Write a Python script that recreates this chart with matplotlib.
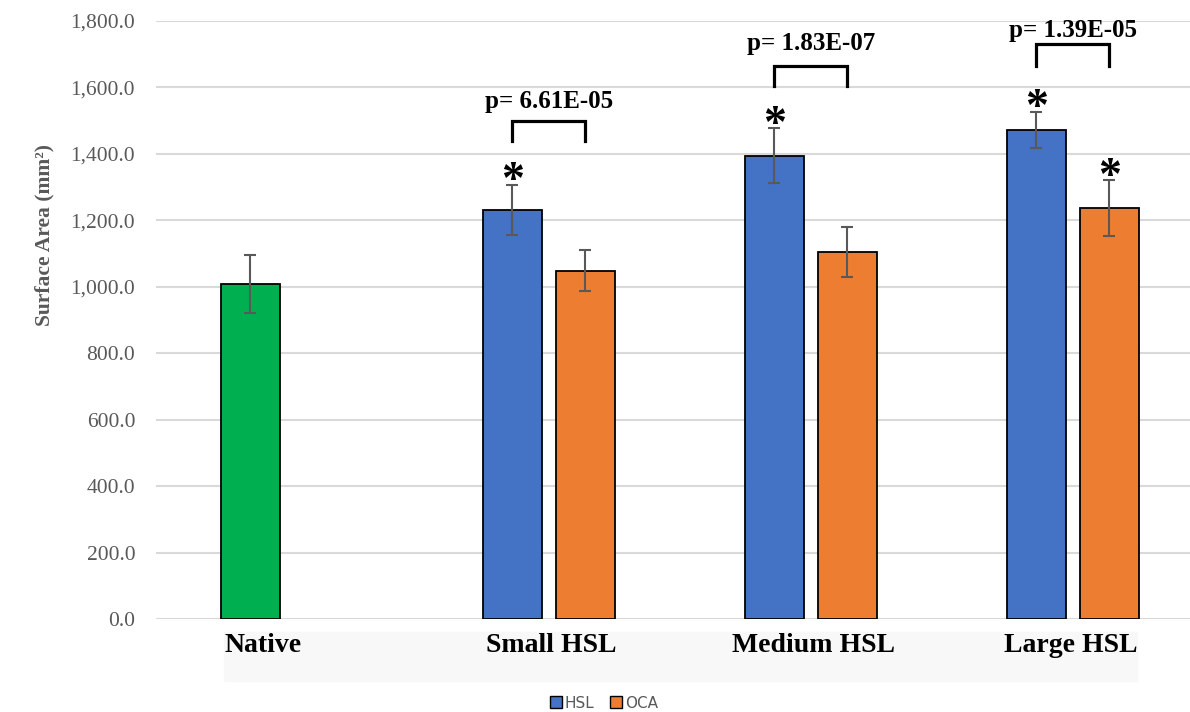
import matplotlib.pyplot as plt
import numpy as np
from matplotlib.patches import Patch, Rectangle

# values
categories = ['Native', 'Small HSL', 'Medium HSL', 'Large HSL']
native_mean = 1008
native_err = 88
hsl_mean = [1231, 1394, 1472]
hsl_err = [75, 83, 55]
oca_mean = [1048, 1105, 1237]
oca_err = [62, 75, 83]
p_labels = ['p= 6.61E-05', 'p= 1.83E-07', 'p= 1.39E-05']
bracket_top = [1499, 1665, 1731]
bracket_leg = [60, 61, 66]
p_text_y = [1538, 1713, 1752]
hsl_star = [True, True, True]
oca_star = [False, False, True]

BLUE = '#4472C4'
ORANGE = '#ED7D31'
GREEN = '#00B050'
GRAY = '#595959'
GRID = '#d9d9d9'
SERIF = 'Liberation Serif'

W, H = 1190, 712
fig = plt.figure(figsize=(W / 100, H / 100), dpi=100)

# light band behind the category labels (added first so it sits under the axes)
fig.patches.append(Rectangle((224 / W, 1 - 681 / H), (1137 - 224) / W, 49 / H,
                             transform=fig.transFigure, color='#f8f8f8',
                             zorder=-1))

ax = fig.add_axes([156 / W, 1 - 619 / H, 1 - 156 / W, (619 - 21) / H])
ax.patch.set_alpha(0)

off = 0.1393
bw = 0.225
groups = np.arange(1, 4)
bar_kw = dict(width=bw, edgecolor='black', linewidth=1.3, zorder=3)
err_kw = dict(ecolor=GRAY, elinewidth=1.5, capsize=4, capthick=1.5, zorder=4)

ax.bar(0 - off, native_mean, yerr=native_err, color=GREEN, error_kw=err_kw, **bar_kw)
ax.bar(groups - off, hsl_mean, yerr=hsl_err, color=BLUE, error_kw=err_kw, **bar_kw)
ax.bar(groups + off, oca_mean, yerr=oca_err, color=ORANGE, error_kw=err_kw, **bar_kw)

# significance stars
star_kw = dict(ha='center', va='baseline', fontsize=33, fontweight='bold',
               family=SERIF, zorder=5)
for g, m, e, s in zip(groups, hsl_mean, hsl_err, hsl_star):
    if s:
        ax.text(g - off, m + e - 25, '*', **star_kw)
for g, m, e, s in zip(groups, oca_mean, oca_err, oca_star):
    if s:
        ax.text(g + off, m + e - 25, '*', **star_kw)

# brackets with p-values
for g, top, leg, lbl, ty in zip(groups, bracket_top, bracket_leg, p_labels, p_text_y):
    xl, xr = g - off, g + off
    ax.plot([xl, xl, xr, xr], [top - leg, top, top, top - leg],
            color='black', lw=2.3, solid_joinstyle='miter', zorder=5)
    ax.text(g, ty, lbl, ha='center', va='baseline', fontsize=18,
            fontweight='bold', family=SERIF)

ax.set_xlim(-0.5, 3.447)
ax.set_ylim(0, 1800)
ax.set_yticks(np.arange(0, 1801, 200))
ax.set_yticklabels([f'{v:,.1f}' for v in np.arange(0, 1801, 200)],
                   family=SERIF, fontsize=15.5, color=GRAY)
ax.tick_params(axis='y', length=0, pad=15)
ax.set_xticks([-0.09, 1.01, 2.01, 2.99])
ax.set_xticklabels(categories, family=SERIF, fontsize=20, fontweight='bold')
ax.tick_params(axis='x', length=0, pad=10)
ax.yaxis.grid(True, color=GRID, lw=1.5, zorder=0)
ax.set_axisbelow(True)
for sp in ax.spines.values():
    sp.set_visible(False)
ax.set_ylabel('Surface Area (mm²)', family=SERIF, fontsize=15.5,
              fontweight='bold', color=GRAY)
ax.yaxis.set_label_coords(-0.098, 0.642)

handles = [Patch(facecolor=BLUE, edgecolor='black', label='HSL'),
           Patch(facecolor=ORANGE, edgecolor='black', label='OCA')]
fig.legend(handles=handles, loc='center', bbox_to_anchor=(604 / W, 1 - 703 / H),
           ncol=2, frameon=False, fontsize=11, labelcolor=GRAY,
           handlelength=0.8, handleheight=0.8, handletextpad=0.2,
           columnspacing=1.0, borderpad=0)

fig.savefig('out.png', dpi=100)
